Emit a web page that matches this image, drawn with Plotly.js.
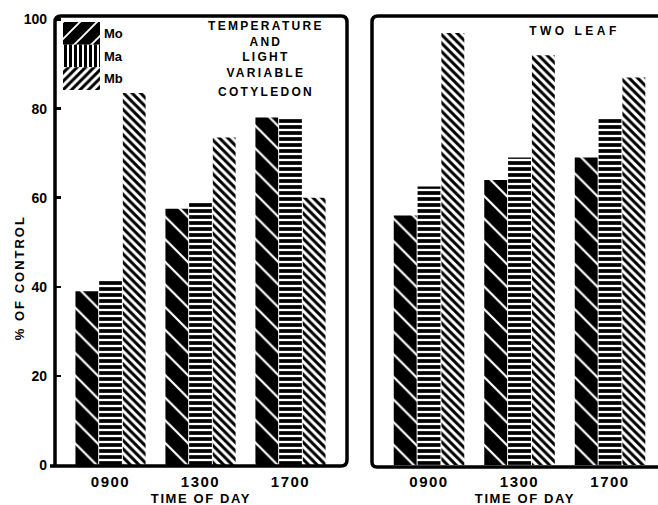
<!DOCTYPE html>
<html><head><meta charset="utf-8">
<script src="https://cdn.plot.ly/plotly-3.0.1.min.js"></script>
<style>
html,body{margin:0;padding:0;background:#fff;}
#chart{width:658px;height:505px;}
.annotation-text{letter-spacing:2.3px;}
g.annotation[data-index="2"] text{letter-spacing:3.5px;}
g.annotation[data-index="3"] text{letter-spacing:2px;}
g.annotation[data-index="4"] text, g.annotation[data-index="5"] text{letter-spacing:1.6px;}
.xtick text, .x2tick text{letter-spacing:1.5px;}
</style></head><body><div id="chart"></div>
<script>
// ---- data ----
const timeOfDay = ['0900', '1300', '1700'];
const seriesNames = ['Mo', 'Ma', 'Mb'];
const cotyledonMo = [39, 57.5, 78];
const cotyledonMa = [41.5, 59, 78];
const cotyledonMb = [83.5, 73.5, 60];
const twoLeafMo = [56, 64, 69];
const twoLeafMa = [62.5, 69, 78];
const twoLeafMb = [97, 92, 87];
const yTicks = [0, 20, 40, 60, 80, 100];

// ---- helpers (pixel -> paper) ----
const W = 658, H = 505;
const px = x => x / W;
const py = y => 1 - y / H;
const FONT = 'Liberation Sans, Arial, sans-serif';

const patterns = {
  Mo: {color: '#000', pattern: {shape: '\\', bgcolor: '#000', fgcolor: '#fff', size: 16, solidity: 0.14}},
  Ma: {color: '#fff', pattern: {shape: '-', bgcolor: '#fff', fgcolor: '#000', size: 6, solidity: 0.62}},
  Mb: {color: '#fff', pattern: {shape: '\\', bgcolor: '#fff', fgcolor: '#000', size: 6, solidity: 0.5}}
};
const legendPatterns = {
  Mo: {color: '#000', pattern: {shape: '/', bgcolor: '#000', fgcolor: '#fff', size: 12, solidity: 0.16}},
  Ma: {color: '#fff', pattern: {shape: '|', bgcolor: '#fff', fgcolor: '#000', size: 5, solidity: 0.6}},
  Mb: {color: '#fff', pattern: {shape: '/', bgcolor: '#fff', fgcolor: '#000', size: 6, solidity: 0.5}}
};

function bar(name, vals, xa) {
  const p = patterns[name];
  return {
    type: 'bar', name: name, x: timeOfDay, y: vals, xaxis: xa, yaxis: 'y',
    showlegend: false, hoverinfo: 'skip',
    marker: {color: p.color, line: {width: 0}, pattern: p.pattern}
  };
}
function swatch(name) {
  const p = legendPatterns[name];
  return {
    type: 'bar', orientation: 'h', name: name, x: [1], y: [name], base: 0, width: 1, offset: -0.5,
    xaxis: 'x3', yaxis: 'y3', showlegend: false, hoverinfo: 'skip',
    marker: {color: p.color, line: {width: 0}, pattern: p.pattern}
  };
}

const traces = [
  bar('Mo', cotyledonMo, 'x'), bar('Ma', cotyledonMa, 'x'), bar('Mb', cotyledonMb, 'x'),
  bar('Mo', twoLeafMo, 'x2'), bar('Ma', twoLeafMa, 'x2'), bar('Mb', twoLeafMb, 'x2')
].concat(seriesNames.map(swatch));

// frame paths
function pathOf(pts) {
  return pts.map(s => s[0] + ' ' + s.slice(1).map((v, i) => (i % 2 === 0 ? px(v) : py(v)).toFixed(5)).join(',')).join(' ');
}
const leftFrame = pathOf([
  ['M', 50, 466], ['L', 55, 466], ['M', 55, 466], ['L', 55, 22], ['Q', 55, 16, 61, 16], ['L', 341, 16],
  ['Q', 347, 16, 347, 22], ['L', 347, 460], ['Q', 347, 466, 341, 466], ['L', 50, 466]
]);
const rightFrame = pathOf([
  ['M', 665, 16], ['L', 378, 16], ['Q', 372, 16, 372, 22], ['L', 372, 462],
  ['Q', 372, 467, 377, 467], ['L', 665, 467]
]);

const ann = (text, x, y, size, bold, extra) => Object.assign({
  text: text, xref: 'paper', yref: 'paper', x: px(x), y: py(y), xanchor: 'center', yanchor: 'middle',
  showarrow: false, font: {family: FONT, size: size, color: '#000', weight: bold ? 'bold' : 'normal'}
}, extra || {});

const layout = {
  width: W, height: H, margin: {l: 0, r: 0, t: 0, b: 0},
  paper_bgcolor: '#fff', plot_bgcolor: 'rgba(0,0,0,0)',
  barmode: 'group', bargap: 0.21, bargroupgap: 0.04,
  font: {family: FONT, color: '#000'},
  xaxis: {
    domain: [px(55), px(347)], anchor: 'y', type: 'category', range: [-0.617, 2.628],
    showgrid: false, zeroline: false, showline: false, ticks: '',
    tickfont: {family: FONT, size: 15, weight: 'bold', color: '#000'}, ticklabelstandoff: 6
  },
  xaxis2: {
    domain: [px(372), 1], anchor: 'y', type: 'category', range: [-0.63, 2.53],
    showgrid: false, zeroline: false, showline: false, ticks: '',
    tickfont: {family: FONT, size: 15, weight: 'bold', color: '#000'}, ticklabelstandoff: 6
  },
  yaxis: {
    domain: [py(465), py(16)], anchor: 'x', range: [0, 100.79],
    tickvals: yTicks, ticktext: yTicks.map(String),
    showgrid: false, zeroline: false, showline: false,
    ticks: 'inside', ticklen: 6, tickwidth: 2.5, tickcolor: '#000',
    tickfont: {family: FONT, size: 14, weight: 'bold', color: '#000'}, ticklabelstandoff: 7
  },
  xaxis3: {domain: [px(63), px(100)], anchor: 'y3', range: [0, 1], visible: false},
  yaxis3: {
    domain: [py(90), py(22)], anchor: 'x3', type: 'category', categoryarray: seriesNames,
    range: [2.5, -0.5], side: 'right', showgrid: false, zeroline: false, showline: false, ticks: '',
    tickfont: {family: FONT, size: 13, weight: 'bold', color: '#000'}, ticklabelstandoff: 3
  },
  shapes: [
    {type: 'path', xref: 'paper', yref: 'paper', path: leftFrame, line: {color: '#000', width: 3.5}},
    {type: 'path', xref: 'paper', yref: 'paper', path: rightFrame, line: {color: '#000', width: 3.5}}
  ],
  annotations: [
    ann('TEMPERATURE<br>AND<br>LIGHT<br>VARIABLE', 266, 50, 12, true),
    ann('COTYLEDON', 266, 92, 12, true),
    ann('TWO LEAF', 574, 31, 12, true),
    ann('% OF CONTROL', 19, 278, 13, true, {textangle: -90}),
    ann('TIME OF DAY', 201, 498, 13, true),
    ann('TIME OF DAY', 525, 498, 13, true)
  ]
};

Plotly.newPlot('chart', traces, layout, {staticPlot: true, displayModeBar: false});
</script></body></html>
